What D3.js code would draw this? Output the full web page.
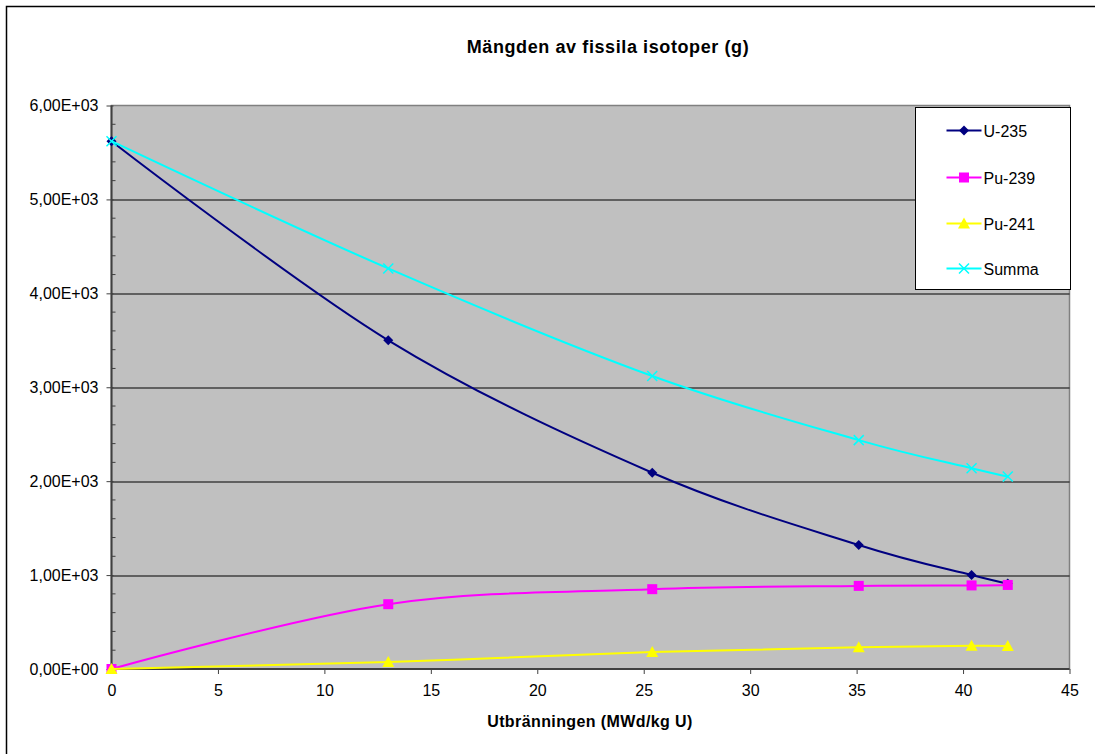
<!DOCTYPE html>
<html>
<head>
<meta charset="utf-8">
<script src="https://cdn.jsdelivr.net/npm/d3@7"></script>
<style>
  body { margin: 0; background: #fff; }
  text { font-family: "Liberation Sans", Arial, sans-serif; }
</style>
</head>
<body>
<div id="chart"></div>
<script>
// burnup (MWd/kg U)
var burnup = [0, 13.0, 25.4, 35.1, 40.4, 42.1];
var u235  = [5620, 3500, 2090, 1320, 1000, 910];
var pu239 = [0, 690, 850, 885, 890, 895];
var pu241 = [0, 75, 180, 232, 248, 245];
var summa = [5620, 4265, 3120, 2437, 2138, 2050];
var seriesNames = ["U-235", "Pu-239", "Pu-241", "Summa"];
var yTicks = [0, 1000, 2000, 3000, 4000, 5000, 6000];
var xTicks = [0, 5, 10, 15, 20, 25, 30, 35, 40, 45];

var W = 1095, H = 754;
var margin = {top: 105.5, right: 25.5, bottom: 85, left: 111.5},
    width = 1069.5 - margin.left,
    height = 669 - margin.top;

var svg = d3.select("#chart").append("svg")
    .attr("width", W).attr("height", H);

// outer frame (only left/top visible in the picture)
svg.append("rect")
    .attr("x", 6.5).attr("y", 6.5)
    .attr("width", W + 10).attr("height", H + 10)
    .attr("fill", "#fff").attr("stroke", "#000").attr("stroke-width", 1.5);

var g = svg.append("g")
    .attr("transform", "translate(" + margin.left + "," + margin.top + ")");

var x = d3.scaleLinear().domain([0, 45]).range([0, width]);
var y = d3.scaleLinear().domain([0, 6000]).range([height, 0]);

// plot background
g.append("rect")
    .attr("width", width).attr("height", height)
    .attr("fill", "#c0c0c0").attr("stroke", "#808080").attr("stroke-width", 1.5);

// gridlines
g.append("g").selectAll("line")
    .data(yTicks.slice(1, -1))
    .enter().append("line")
    .attr("x1", 0).attr("x2", width)
    .attr("y1", function(d) { return Math.round(y(d)) + 0.5; })
    .attr("y2", function(d) { return Math.round(y(d)) + 0.5; })
    .attr("stroke", "#000").attr("stroke-width", 1);

// minor ticks on the y axis
g.append("g").selectAll("line")
    .data(d3.range(0, 6001, 200).filter(function(d) { return d % 1000 != 0; }))
    .enter().append("line")
    .attr("x1", 0).attr("x2", 4)
    .attr("y1", function(d) { return y(d); })
    .attr("y2", function(d) { return y(d); })
    .attr("stroke", "#404040").attr("stroke-width", 1);

// Y axis
var yAxis = g.append("g")
    .call(d3.axisLeft(y).tickValues(yTicks).tickSize(5).tickPadding(8)
        .tickFormat(function(d) {
            var e = d == 0 ? "0,00E+00" : (d / 1000).toFixed(2).replace(".", ",") + "E+03";
            return e;
        }));
yAxis.select(".domain").attr("stroke", "#404040").attr("stroke-width", 2).attr("d", "M0," + height + "V0");
yAxis.selectAll(".tick line").attr("stroke", "#404040").attr("x2", -5).attr("x1", 2);
yAxis.selectAll(".tick text").attr("font-size", 16).attr("fill", "#000")
    .attr("font-family", "Liberation Sans, Arial, sans-serif");

// X axis
var xAxis = g.append("g")
    .attr("transform", "translate(0," + height + ")")
    .call(d3.axisBottom(x).tickValues(xTicks).tickSize(5).tickPadding(11));
xAxis.select(".domain").attr("stroke", "#404040").attr("stroke-width", 2).attr("d", "M0,0H" + width);
xAxis.selectAll(".tick line").attr("stroke", "#404040");
xAxis.selectAll(".tick text").attr("font-size", 16).attr("fill", "#000")
    .attr("font-family", "Liberation Sans, Arial, sans-serif");

// series
var series = [
    {name: seriesNames[0], values: u235,  color: "#000080", marker: "diamond"},
    {name: seriesNames[1], values: pu239, color: "#ff00ff", marker: "square"},
    {name: seriesNames[2], values: pu241, color: "#ffff00", marker: "triangle"},
    {name: seriesNames[3], values: summa, color: "#00ffff", marker: "x"}
];

var line = d3.line()
    .x(function(d) { return x(d[0]); })
    .y(function(d) { return y(d[1]); })
    .curve(d3.curveCatmullRom.alpha(0));

function drawMarker(sel, type, color) {
    if (type == "diamond") {
        sel.append("path").attr("d", "M0,-5L5,0L0,5L-5,0Z").attr("fill", color);
    } else if (type == "square") {
        sel.append("rect").attr("x", -5).attr("y", -5).attr("width", 10).attr("height", 10).attr("fill", color);
    } else if (type == "triangle") {
        sel.append("path").attr("d", "M0,-6L6,5L-6,5Z").attr("fill", color);
    } else {
        sel.append("path").attr("d", "M-5,-5L5,5M-5,5L5,-5")
            .attr("stroke", color).attr("stroke-width", 1.5).attr("fill", "none");
    }
}

series.forEach(function(s) {
    var pts = burnup.map(function(b, i) { return [b, s.values[i]]; });
    g.append("path")
        .datum(pts)
        .attr("d", line)
        .attr("fill", "none")
        .attr("stroke", s.color)
        .attr("stroke-width", 2);
    g.append("g").selectAll("g")
        .data(pts)
        .enter().append("g")
        .attr("transform", function(d) { return "translate(" + x(d[0]) + "," + y(d[1]) + ")"; })
        .each(function() { drawMarker(d3.select(this), s.marker, s.color); });
});

// legend
var legend = svg.append("g").attr("transform", "translate(915.5,107.5)");
legend.append("rect")
    .attr("width", 155).attr("height", 182)
    .attr("fill", "#fff").attr("stroke", "#000").attr("stroke-width", 1);
var legY = [23, 70, 116, 161];
series.forEach(function(s, i) {
    var item = legend.append("g").attr("transform", "translate(0," + legY[i] + ")");
    item.append("line").attr("x1", 31).attr("x2", 66)
        .attr("stroke", s.color).attr("stroke-width", 2);
    var m = item.append("g").attr("transform", "translate(48.5,0)");
    drawMarker(m, s.marker, s.color);
    item.append("text").attr("x", 68).attr("y", 6)
        .attr("font-size", 16).attr("fill", "#000").text(s.name);
});

// title
svg.append("text")
    .attr("x", 608).attr("y", 53)
    .attr("text-anchor", "middle")
    .attr("font-size", 18).attr("font-weight", "bold")
    .attr("letter-spacing", 0.6)
    .text("Mängden av fissila isotoper (g)");

// x-axis label
svg.append("text")
    .attr("x", 590).attr("y", 727)
    .attr("text-anchor", "middle")
    .attr("font-size", 16).attr("font-weight", "bold")
    .attr("letter-spacing", 0.4)
    .text("Utbränningen (MWd/kg U)");
</script>
</body>
</html>
